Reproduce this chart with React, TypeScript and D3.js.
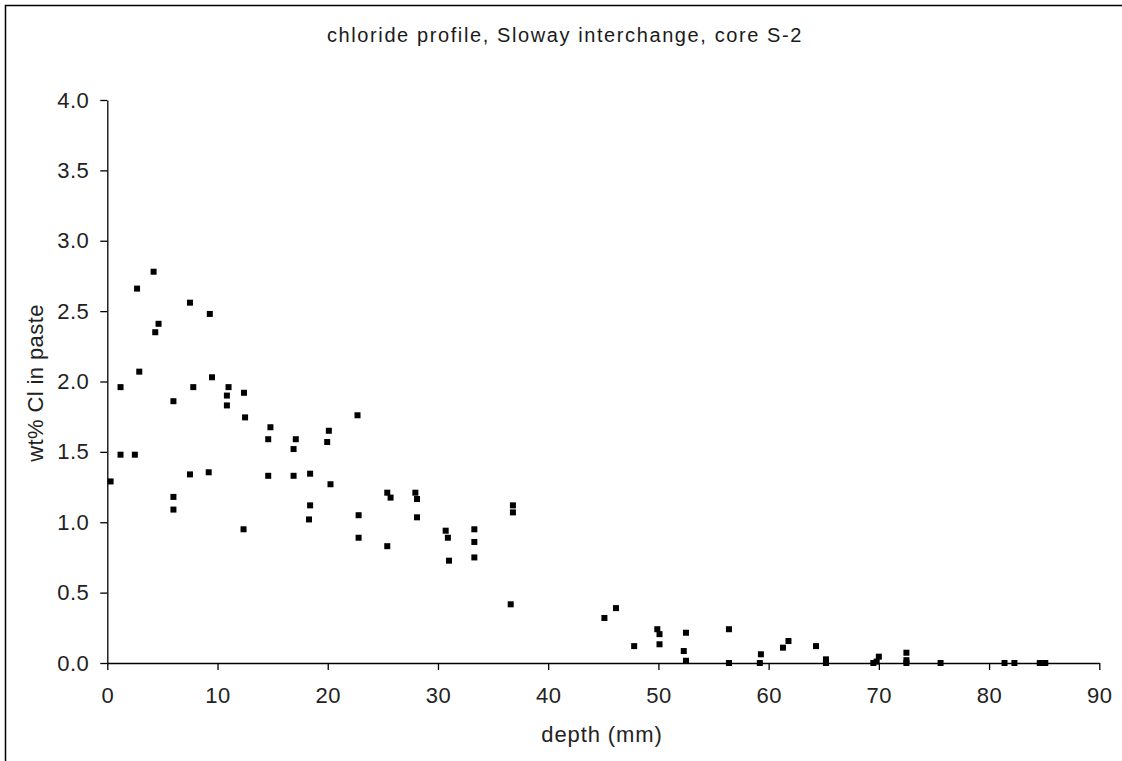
import React, { useRef, useEffect } from 'react';
import * as d3 from 'd3';

// depth (mm) and wt% Cl in paste
const depth = [
  0.3, 1.2, 1.2, 2.5, 2.7, 2.9, 4.2, 4.35, 4.65, 6.0, 6.0, 6.0,
  7.5, 7.5, 7.8, 9.2, 9.3, 9.5, 11.0, 10.85, 10.85, 12.4, 12.5, 12.36,
  14.8, 14.6, 14.6, 17.1, 16.9, 16.9, 18.4, 18.4, 18.3, 20.1, 19.95, 20.25,
  22.7, 22.8, 22.8, 25.4, 25.7, 25.4, 27.95, 28.1, 28.1, 30.7, 30.9, 31.0,
  33.3, 33.3, 33.3, 36.8, 36.8, 36.6, 45.1, 46.15, 47.8, 49.9, 50.1, 50.1,
  52.5, 52.3, 52.5, 56.4, 56.4, 59.3, 59.2, 61.3, 61.8, 64.3, 65.2, 65.2,
  69.5, 70.0, 69.8, 72.5, 72.5, 72.5, 75.6, 81.4, 82.3, 84.6, 85.1,
];
const chloride = [
  1.29, 1.96, 1.48, 1.48, 2.66, 2.07, 2.78, 2.35, 2.41, 1.86, 1.18, 1.09,
  2.56, 1.34, 1.96, 1.355, 2.48, 2.03, 1.96, 1.90, 1.83, 1.92, 1.745, 0.95,
  1.675, 1.59, 1.33, 1.59, 1.52, 1.33, 1.345, 1.12, 1.02, 1.65, 1.57, 1.27,
  1.76, 1.05, 0.89, 1.21, 1.175, 0.83, 1.21, 1.165, 1.035, 0.94, 0.89, 0.727,
  0.95, 0.86, 0.75, 1.12, 1.07, 0.417, 0.32, 0.39, 0.12, 0.24, 0.205, 0.133,
  0.215, 0.085, 0.016, 0.24, 0.0, 0.062, 0.0, 0.109, 0.156, 0.12, 0.026, 0.0,
  0.0, 0.045, 0.01, 0.073, 0.02, 0.0, 0.0, 0.0, 0.0, 0.0, 0.0,
];
const xTicks = [0, 10, 20, 30, 40, 50, 60, 70, 80, 90];
const yTicks = [0, 0.5, 1, 1.5, 2, 2.5, 3, 3.5, 4];

const App = () => {
  const svgRef = useRef<SVGSVGElement>(null);

  useEffect(() => {
    const width = 1122;
    const height = 761;
    const svg = d3.select(svgRef.current);
    svg.selectAll('*').remove();

    const x = d3.scaleLinear().domain([0, 90]).range([107.3, 1099.3]);
    const y = d3.scaleLinear().domain([0, 4]).range([663, 100]);
    const font = 'Liberation Sans, Arial, sans-serif';

    svg.append('rect')
      .attr('width', width).attr('height', height).attr('fill', 'white');

    // outer frame: only top and left edges are visible
    svg.append('path')
      .attr('d', `M5.5,${height} V5.5 H${width}`)
      .attr('fill', 'none').attr('stroke', 'black').attr('stroke-width', 1.5);

    svg.append('text')
      .attr('x', 565).attr('y', 42)
      .attr('text-anchor', 'middle')
      .style('font-family', font).style('font-size', '20px')
      .style('letter-spacing', '1.6px')
      .attr('fill', '#1a1a1a')
      .text('chloride profile, Sloway interchange, core S-2');

    const xAxis = svg.append('g')
      .attr('transform', `translate(0,${y(0)})`)
      .call(d3.axisBottom(x).tickValues(xTicks).tickFormat(d3.format('d')).tickSize(7).tickSizeOuter(0).tickPadding(17));
    const yAxis = svg.append('g')
      .attr('transform', `translate(${x(0)},0)`)
      .call(d3.axisLeft(y).tickValues(yTicks).tickFormat(d3.format('.1f')).tickSize(7).tickSizeOuter(0).tickPadding(11));

    [xAxis, yAxis].forEach(g => {
      g.select('.domain').attr('stroke', 'black').attr('stroke-width', 1.3);
      g.selectAll('.tick line').attr('stroke', 'black').attr('stroke-width', 1.3);
      g.selectAll('text')
        .attr('fill', '#222')
        .style('font-family', font)
        .style('font-size', '22px')
        .style('letter-spacing', '0.5px');
    });

    svg.append('text')
      .attr('x', 602).attr('y', 742)
      .attr('text-anchor', 'middle')
      .style('font-family', font).style('font-size', '22px')
      .style('letter-spacing', '0.9px')
      .attr('fill', '#222')
      .text('depth (mm)');

    svg.append('text')
      .attr('transform', `translate(43,383) rotate(-90)`)
      .attr('text-anchor', 'middle')
      .style('font-family', font).style('font-size', '22px')
      .style('letter-spacing', '0.4px')
      .attr('fill', '#222')
      .text('wt% Cl in paste');

    const s = 6;
    svg.append('g')
      .selectAll('rect')
      .data(d3.range(depth.length))
      .join('rect')
      .attr('x', i => x(depth[i]) - s / 2)
      .attr('y', i => y(chloride[i]) - s / 2)
      .attr('width', s)
      .attr('height', s)
      .attr('fill', 'black');
  }, []);

  return (
    <div style={{ position: 'absolute', left: 0, top: 0, width: 1122, height: 761, overflow: 'hidden', background: 'white' }}>
      <svg ref={svgRef} width={1122} height={761} style={{ display: 'block' }}></svg>
    </div>
  );
};

export default App;
